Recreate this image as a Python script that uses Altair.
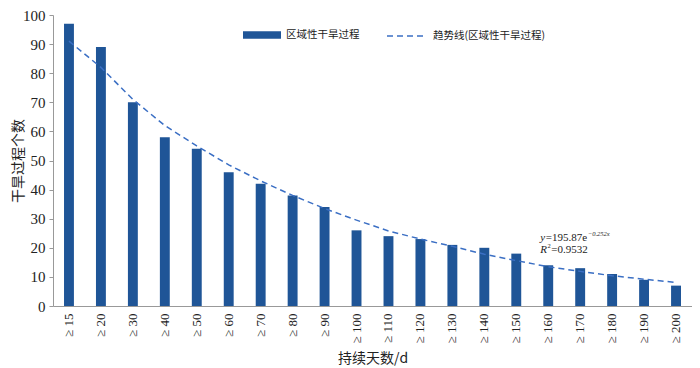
import altair as alt
import pandas as pd

categories = ["≥15", "≥20", "≥30", "≥40", "≥50", "≥60", "≥70", "≥80", "≥90", "≥100",
              "≥110", "≥120", "≥130", "≥140", "≥150", "≥160", "≥170", "≥180", "≥190", "≥200"]
counts = [97, 89, 70, 58, 54, 46, 42, 38, 34, 26, 24, 23, 21, 20, 18, 14, 13, 11, 9, 7]
trend = [91, 82, 71, 62, 55, 48.5, 43, 38, 33.5, 29.5, 25.8, 23, 20.5, 17.8, 15.6,
         13.5, 11.9, 10.4, 9.2, 8.1]
bar_name = "区域性干旱过程"
line_name = "趋势线(区域性干旱过程)"
eq_main = "=195.87e"
eq_sup = "−0.252x"
r2_val = "=0.9532"

BAR = "#1f5597"
LINE = "#3b6fc4"
SERIF = "Liberation Serif"
CJK = "Noto Sans CJK SC"
TXT = "#222"

df = pd.DataFrame({"cat": [c.replace("≥", "≥ ") for c in categories],
                   "n": counts, "trend": trend,
                   "s": bar_name, "t": line_name})
cat_order = list(df["cat"])

H = 291
W = 639


def make_x():
    return alt.X("cat:N", sort=cat_order, title="持续天数/d",
                 scale=alt.Scale(paddingInner=0.69, paddingOuter=0.345),
                 axis=alt.Axis(labelAngle=270, labelAlign="right", labelBaseline="middle",
                               labelFont=SERIF, labelFontSize=13, labelColor=TXT,
                               ticks=False, labelPadding=7, domainColor="#999",
                               labelOverlap=False,
                               titleFont=CJK, titleFontSize=14, titleFontWeight="normal",
                               titleColor=TXT, titleY=52, titleBaseline="middle"))


def make_y(field):
    return alt.Y(field, title="干旱过程个数",
                 scale=alt.Scale(domain=[0, 100]),
                 axis=alt.Axis(values=list(range(0, 101, 10)), grid=False, tickSize=4,
                               tickColor="#999", domainColor="#999",
                               labelFont=SERIF, labelFontSize=15, labelColor=TXT,
                               labelPadding=4, labelOverlap=False,
                               titleFont=CJK, titleFontSize=14, titleFontWeight="normal",
                               titleColor=TXT, titleX=-35, titleY=H / 2,
                               titleAngle=270, titleBaseline="middle", titleAlign="center"))


bars = alt.Chart(df).mark_bar().encode(
    x=make_x(), y=make_y("n:Q"),
    fill=alt.Fill("s:N", scale=alt.Scale(domain=[bar_name], range=[BAR]),
                  legend=alt.Legend(title=None, orient="none", legendX=190, legendY=1,
                                    symbolType="M-1,-0.2L1,-0.2L1,0.2L-1,0.2Z",
                                    symbolSize=1444, symbolStrokeWidth=0,
                                    labelFont=CJK, labelFontSize=10.5,
                                    labelColor=TXT, labelOffset=5)),
)

line = alt.Chart(df).mark_line(strokeDash=[6, 4], strokeWidth=1.5).encode(
    x=make_x(), y=make_y("trend:Q"),
    stroke=alt.Stroke("t:N", scale=alt.Scale(domain=[line_name], range=[LINE]),
                      legend=alt.Legend(title=None, orient="none", legendX=333, legendY=1,
                                        symbolType="stroke", symbolSize=1444,
                                        symbolStrokeWidth=1.5, symbolDash=[6, 4],
                                        labelFont=CJK, labelFontSize=10.5,
                                        labelColor=TXT, labelOffset=7)),
)

eq_df = pd.DataFrame({"cat": ["≥ 150"], "v1": [23.4], "v2": [19.2]})
base = alt.Chart(eq_df)
D = 24


def txt(field, text, dx, size=11, italic=False, dy=0):
    kw = dict(align="left", baseline="middle", font=SERIF, fontSize=size,
              color=TXT, dx=dx, dy=dy)
    if italic:
        kw["fontStyle"] = "italic"
    return base.mark_text(**kw).encode(
        x=make_x(), y=make_y(field), text=alt.value(text))


layers = [
    bars, line,
    txt("v1:Q", "y", D, italic=True),
    txt("v1:Q", eq_main, D + 5.5),
    txt("v1:Q", eq_sup, D + 47.5, size=6.5, italic=True, dy=-4),
    txt("v2:Q", "R", D, italic=True),
    txt("v2:Q", "2", D + 7.2, size=6.5, dy=-4),
    txt("v2:Q", r2_val, D + 11),
]

chart = alt.layer(*layers).resolve_scale(
    fill="independent", stroke="independent"
).properties(
    width=W, height=H,
    autosize=alt.AutoSizeParams(type="none"),
    padding={"left": 45, "top": 7, "right": 0, "bottom": 62},
    background="white",
).configure_view(stroke=None)

chart.save("out.html", embed_options={"renderer": "svg", "actions": False})
